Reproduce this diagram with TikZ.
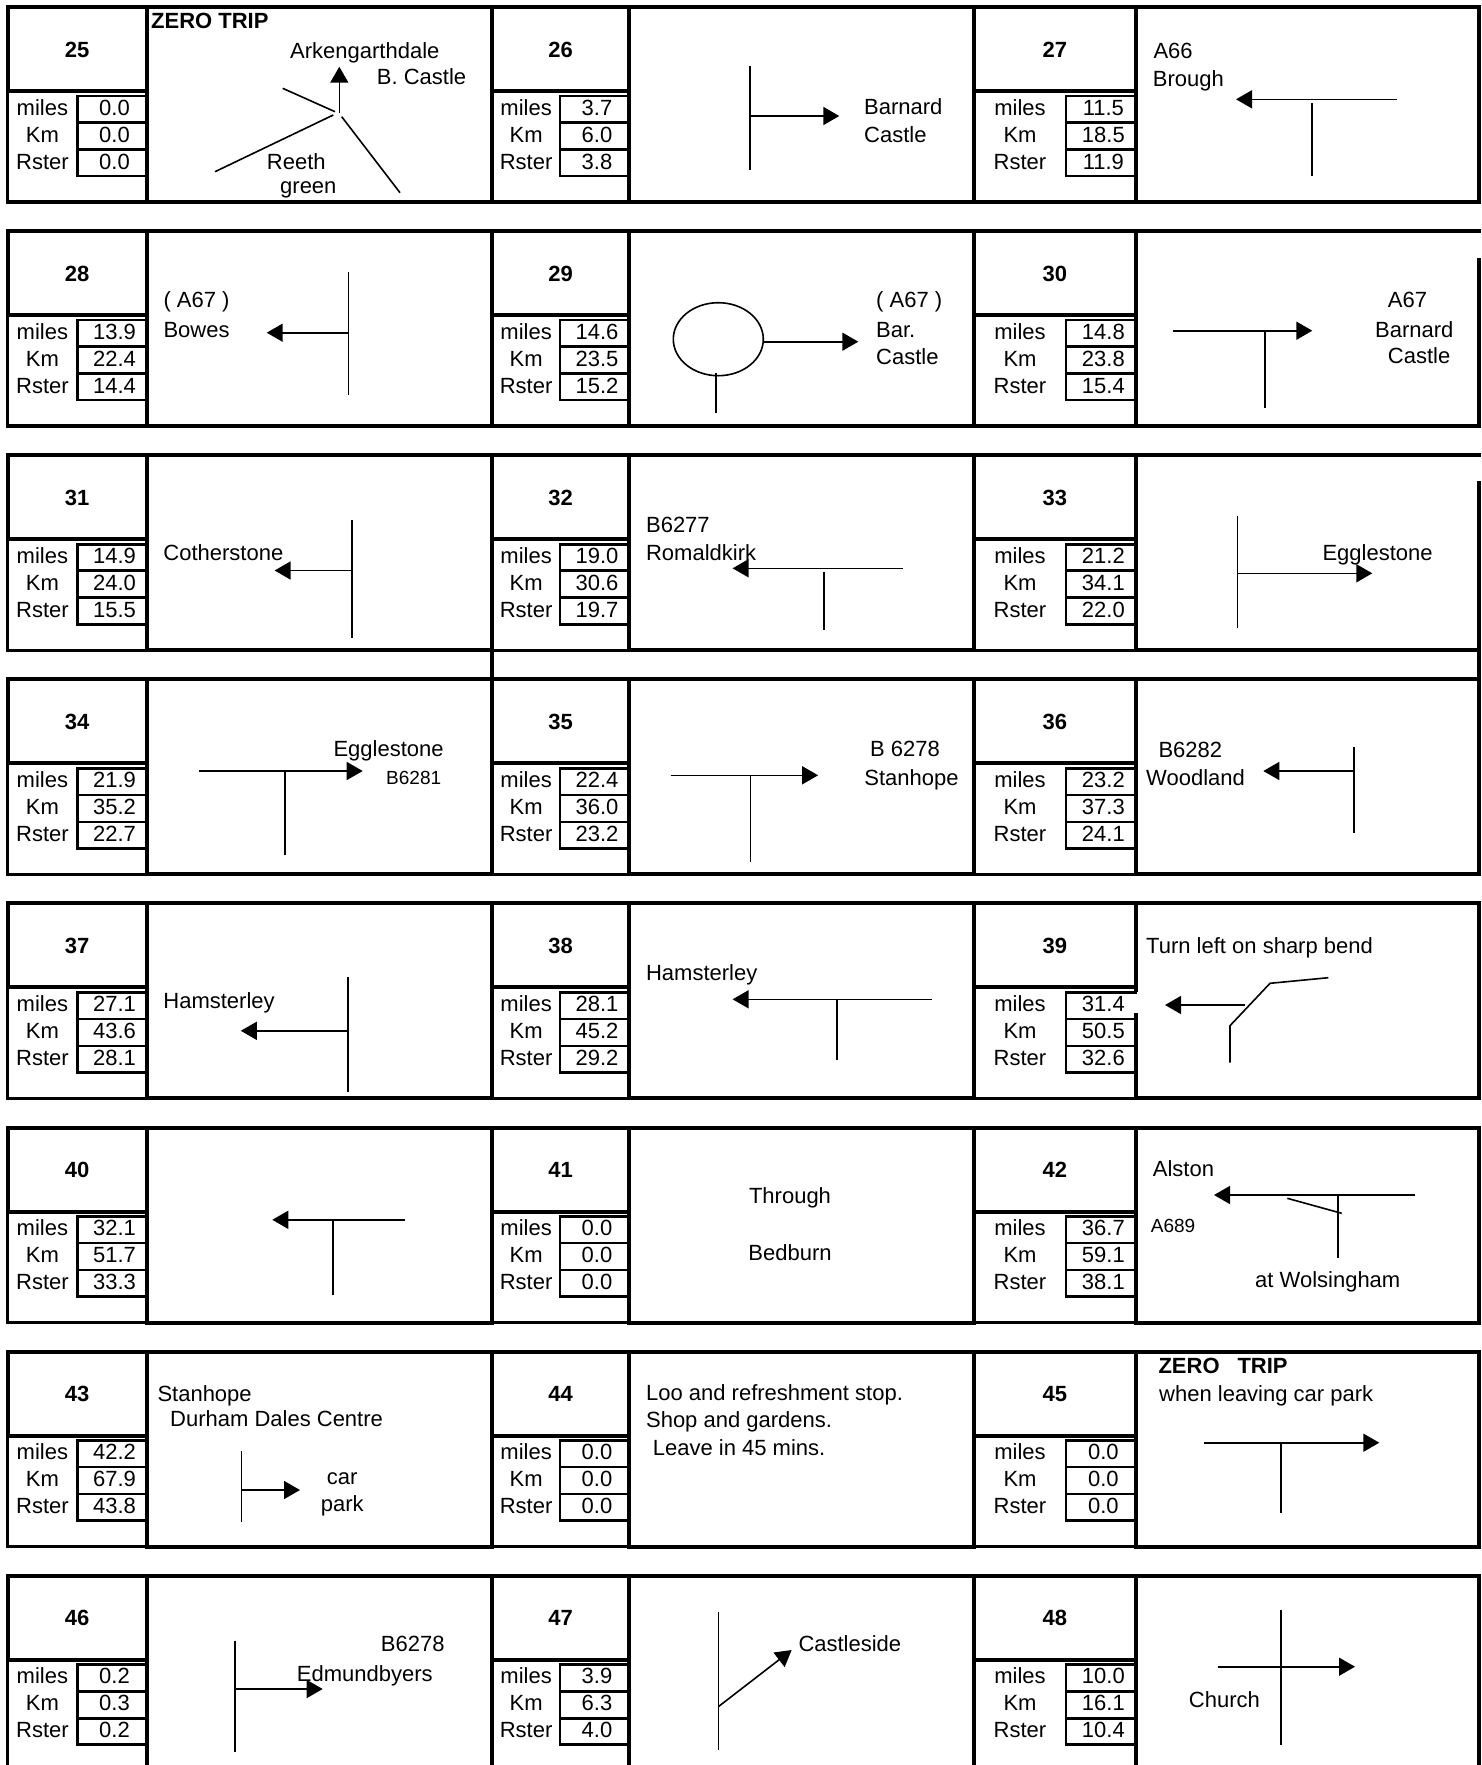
\documentclass[tikz,border=0pt]{standalone}
\usepackage{fontspec}
\setmainfont{Liberation Sans}
\usetikzlibrary{arrows.meta}
\newif\ifgapleft
\def\rgap{0}
\tikzset{
  frame/.style={line width=4pt, line cap=rect},
  lowframe/.style={line width=3.3pt, line cap=rect},
  vbox/.style={line width=2.6pt, line cap=rect},
  road/.style={line width=1.6pt},
  arr/.style={road, -{Triangle[length=16pt,width=18pt]}},
  txt/.style={font=\fontsize{22}{26}\selectfont, inner sep=0pt, anchor=base west},
  btxt/.style={txt, font=\fontsize{22}{26}\selectfont\bfseries},
  stxt/.style={txt, font=\fontsize{19}{22}\selectfont},
}
% #1 L, #2 V, #3 B, #4 R, #5 T, #6 number, #7 miles, #8 km, #9 rster
\newcommand{\routecell}[9]{%
  \draw[frame] (#1,#5) rectangle (#3,{#5+84});
  \draw[lowframe] (#1,{#5+84}) -- (#1,{#5+195}) -- (#3,{#5+195});
  \draw[vbox] (#3,{#5+89}) -- (#2,{#5+89}) -- (#2,{#5+169}) -- (#3,{#5+169});
  \draw[vbox] (#2,{#5+115.5}) -- (#3,{#5+115.5}) (#2,{#5+142.5}) -- (#3,{#5+142.5});
  \draw[frame] (#3,#5) -- (#4,#5) (#3,{#5+195}) -- (#4,{#5+195});
  \draw[frame] (#4,{#5+\rgap}) -- (#4,{#5+195});
  \ifgapleft
    \draw[frame] (#3,#5) -- (#3,{#5+86.6}) (#3,{#5+111.6}) -- (#3,{#5+195});
  \else
    \draw[frame] (#3,#5) -- (#3,{#5+195});
  \fi
  \node[btxt,anchor=base] (n#6) at ({(#1+#3)/2},{#5+50}) {#6};
  \node[txt,anchor=base] (lm#6) at ({(#1+#2)/2},{#5+108}) {miles};
  \node[txt,anchor=base] (lk#6) at ({(#1+#2)/2},{#5+135}) {Km};
  \node[txt,anchor=base] (lr#6) at ({(#1+#2)/2},{#5+162}) {Rster};
  \node[txt,anchor=base] (vm#6) at ({(#2+#3)/2+2.5},{#5+108}) {#7};
  \node[txt,anchor=base] (vk#6) at ({(#2+#3)/2+2.5},{#5+135}) {#8};
  \node[txt,anchor=base] (vr#6) at ({(#2+#3)/2+2.5},{#5+162}) {#9};
}
\begin{document}
\begin{tikzpicture}[x=1pt,y=-1pt]
\useasboundingbox (0,0) rectangle (1482,1765);
\clip (0,0) rectangle (1482,1765);
% ---------- row 0 ----------
\routecell{7.5}{77.3}{146.7}{492.2}{7}{25}{0.0}{0.0}{0.0}
\routecell{492.2}{560}{629}{974}{7}{26}{3.7}{6.0}{3.8}
\routecell{974}{1066}{1135.7}{1479}{7}{27}{11.5}{18.5}{11.9}
% ---------- row 1 ----------
\routecell{7.5}{77.3}{146.7}{492.2}{231.1}{28}{13.9}{22.4}{14.4}
\routecell{492.2}{560}{629}{974}{231.1}{29}{14.6}{23.5}{15.2}
\def\rgap{29}
\routecell{974}{1066}{1135.7}{1479}{231.1}{30}{14.8}{23.8}{15.4}
\def\rgap{0}
% ---------- row 2 ----------
\routecell{7.5}{77.3}{146.7}{492.2}{455.2}{31}{14.9}{24.0}{15.5}
\routecell{492.2}{560}{629}{974}{455.2}{32}{19.0}{30.6}{19.7}
\def\rgap{28}
\routecell{974}{1066}{1135.7}{1479}{455.2}{33}{21.2}{34.1}{22.0}
\def\rgap{0}
\draw[frame] (492.2,650.2) -- (492.2,679.3);
\draw[frame] (1479,650.2) -- (1479,679.3);
% ---------- row 3 ----------
\routecell{7.5}{77.3}{146.7}{492.2}{679.3}{34}{21.9}{35.2}{22.7}
\routecell{492.2}{560}{629}{974}{679.3}{35}{22.4}{36.0}{23.2}
\routecell{974}{1066}{1135.7}{1479}{679.3}{36}{23.2}{37.3}{24.1}
% ---------- row 4 ----------
\routecell{7.5}{77.3}{146.7}{492.2}{903.4}{37}{27.1}{43.6}{28.1}
\routecell{492.2}{560}{629}{974}{903.4}{38}{28.1}{45.2}{29.2}
\gaplefttrue
\routecell{974}{1066}{1135.7}{1479}{903.4}{39}{31.4}{50.5}{32.6}
\gapleftfalse
% ---------- row 5 ----------
\routecell{7.5}{77.3}{146.7}{492.2}{1127.5}{40}{32.1}{51.7}{33.3}
\routecell{492.2}{560}{629}{974}{1127.5}{41}{0.0}{0.0}{0.0}
\routecell{974}{1066}{1135.7}{1479}{1127.5}{42}{36.7}{59.1}{38.1}
% ---------- row 6 ----------
\routecell{7.5}{77.3}{146.7}{492.2}{1351.6}{43}{42.2}{67.9}{43.8}
\routecell{492.2}{560}{629}{974}{1351.6}{44}{0.0}{0.0}{0.0}
\routecell{974}{1066}{1135.7}{1479}{1351.6}{45}{0.0}{0.0}{0.0}
% ---------- row 7 ----------
\routecell{7.5}{77.3}{146.7}{492.2}{1575.7}{46}{0.2}{0.3}{0.2}
\routecell{492.2}{560}{629}{974}{1575.7}{47}{3.9}{6.3}{4.0}
\routecell{974}{1066}{1135.7}{1479}{1575.7}{48}{10.0}{16.1}{10.4}

% ===== cell 25 =====
\node[btxt] (z25) at (151,28.5) {ZERO TRIP};
\node[txt] (a25) at (290,58.3) {Arkengarthdale};
\node[txt] (b25) at (376.7,84) {B. Castle};
\node[txt] (c25) at (266.7,169.5) {Reeth};
\node[txt] (d25) at (280,193) {green};
\draw[arr] (339.3,113.3) -- (339.3,66.7);
\draw[road] (282.7,88.3) -- (335,111.7);
\draw[road] (215,171.7) -- (333.3,115);
\draw[road] (341.7,116.7) -- (400,192.7);
% ===== cell 26 =====
\draw[road] (750,66) -- (750,170);
\draw[arr] (750,116) -- (839.3,116);
\node[txt] (a26) at (864,114.5) {Barnard};
\node[txt] (b26) at (864,142) {Castle};
% ===== cell 27 =====
\node[txt] (a27) at (1153.3,58) {A66};
\node[txt] (b27) at (1152.7,86.5) {Brough};
\draw[arr] (1397.3,99.3) -- (1236,99.3);
\draw[road] (1311.7,103.3) -- (1311.7,176);
% ===== cell 28 =====
\node[txt] (a28) at (163.3,307.5) {( A67 )};
\node[txt] (b28) at (163.3,337) {Bowes};
\draw[road] (348.3,271.7) -- (348.3,395);
\draw[arr] (348.3,332.7) -- (266.7,332.7);
% ===== cell 29 =====
\draw[road] (718.3,339.2) ellipse [x radius=45pt, y radius=36.5pt];
\draw[arr] (763.3,341.7) -- (858.3,341.7);
\draw[road] (716,373.3) -- (716,412.7);
\node[txt] (a29) at (876,307.5) {( A67 )};
\node[txt] (b29) at (876,337) {Bar.};
\node[txt] (c29) at (876,364) {Castle};
% ===== cell 30 =====
\draw[arr] (1172.7,330.7) -- (1312.3,330.7);
\draw[road] (1265,330.7) -- (1265,408.3);
\node[txt] (a30) at (1387.7,307) {A67};
\node[txt] (b30) at (1375,337) {Barnard};
\node[txt] (c30) at (1387.7,363.5) {Castle};
% ===== cell 31 =====
\node[txt] (a31) at (163.2,560) {Cotherstone};
\draw[road] (352.2,519.9) -- (352.2,638);
\draw[arr] (352.2,570.5) -- (274.6,570.5);
% ===== cell 32 =====
\node[txt] (a32) at (645.9,532) {B6277};
\node[txt] (b32) at (645.9,560) {Romaldkirk};
\draw[arr] (902.5,568.3) -- (732.6,568.3);
\draw[road] (823.7,571.7) -- (823.7,630.2);
% ===== cell 33 =====
\draw[road] (1237.3,515.7) -- (1237.3,628.3);
\draw[arr] (1237.3,573.3) -- (1372.3,573.3);
\node[txt] (a33) at (1322.3,560) {Egglestone};
% ===== cell 34 =====
\node[txt] (a34) at (333.3,756) {Egglestone};
\node[stxt] (b34) at (386,784) {B6281};
\draw[arr] (199.3,771) -- (362.7,771);
\draw[road] (285,771) -- (285,855);
% ===== cell 35 =====
\node[txt] (a35) at (869.9,756) {B 6278};
\node[txt] (b35) at (864.2,785) {Stanhope};
\draw[arr] (670.7,775.3) -- (818.1,775.3);
\draw[road] (750.6,775.3) -- (750.6,862);
% ===== cell 36 =====
\node[txt] (a36) at (1158.3,757.5) {B6282};
\node[txt] (b36) at (1146,785.7) {Woodland};
\draw[road] (1354,746.7) -- (1354,833.3);
\draw[arr] (1354,771) -- (1263.3,771);
% ===== cell 37 =====
\node[txt] (a37) at (163.2,1008) {Hamsterley};
\draw[road] (347.7,976.8) -- (347.7,1091.5);
\draw[arr] (349,1030.8) -- (240.8,1030.8);
% ===== cell 38 =====
\node[txt] (a38) at (645.9,980) {Hamsterley};
\draw[arr] (931.7,999.3) -- (732.6,999.3);
\draw[road] (837.2,999.3) -- (837.2,1060);
% ===== cell 39 =====
\node[txt] (a39) at (1146,953.3) {Turn left on sharp bend};
\draw[arr] (1245,1005) -- (1165,1005);
\draw[road] (1230,1062.7) -- (1230,1025.7) -- (1270,983.3) -- (1328.3,977.7);
% ===== cell 40 =====
\draw[arr] (405.1,1219.8) -- (272.3,1219.8);
\draw[road] (333.1,1219.8) -- (333.1,1295.2);
% ===== cell 41 =====
\node[txt,anchor=base] (a41) at (790,1203.5) {Through};
\node[txt,anchor=base] (b41) at (790,1260) {Bedburn};
% ===== cell 42 =====
\node[txt] (a42) at (1152.7,1176.7) {Alston};
\node[stxt] (b42) at (1150.7,1232.5) {A689};
\node[txt] (c42) at (1255,1287.3) {at Wolsingham};
\draw[arr] (1415,1195) -- (1214,1195);
\draw[road] (1337.7,1195) -- (1337.7,1257.7);
\draw[road] (1287.3,1198.3) -- (1341.7,1213.3);
% ===== cell 43 =====
\node[txt] (a43) at (157.3,1401) {Stanhope};
\node[txt] (b43) at (170,1426.7) {Durham Dales Centre};
\draw[road] (241.3,1451) -- (241.3,1521.7);
\draw[arr] (241.3,1490) -- (300,1490);
\node[txt] (c43) at (326.7,1484.5) {car};
\node[txt] (d43) at (320.7,1511.7) {park};
% ===== cell 44 =====
\node[txt] (a44) at (645.9,1400.5) {Loo and refreshment stop.};
\node[txt] (b44) at (645.9,1427.5) {Shop and gardens.};
\node[txt] (c44) at (652.7,1455.5) {Leave in 45 mins.};
% ===== cell 45 =====
\node[btxt] (a45) at (1158.3,1373.3) {ZERO};
\node[btxt] (b45) at (1237.3,1373.3) {TRIP};
\node[txt] (c45) at (1159,1401) {when leaving car park};
\draw[arr] (1204,1442.7) -- (1379.3,1442.7);
\draw[road] (1280.7,1442.7) -- (1280.7,1513.3);
% ===== cell 46 =====
\draw[road] (234.7,1640.7) -- (234.7,1751.7);
\draw[arr] (234.7,1689) -- (322.7,1689);
\node[txt] (a46) at (380.7,1651) {B6278};
\node[txt] (b46) at (296.7,1681) {Edmundbyers};
% ===== cell 47 =====
\draw[road] (718.3,1611.7) -- (718.3,1750);
\draw[arr] (718.3,1706.7) -- (791.7,1650);
\node[txt] (a47) at (798.3,1651.5) {Castleside};
% ===== cell 48 =====
\draw[road] (1280.7,1610) -- (1280.7,1745);
\draw[arr] (1217.7,1666.7) -- (1355,1666.7);
\node[txt] (a48) at (1188.7,1707.7) {Church};
\end{tikzpicture}
\end{document}
